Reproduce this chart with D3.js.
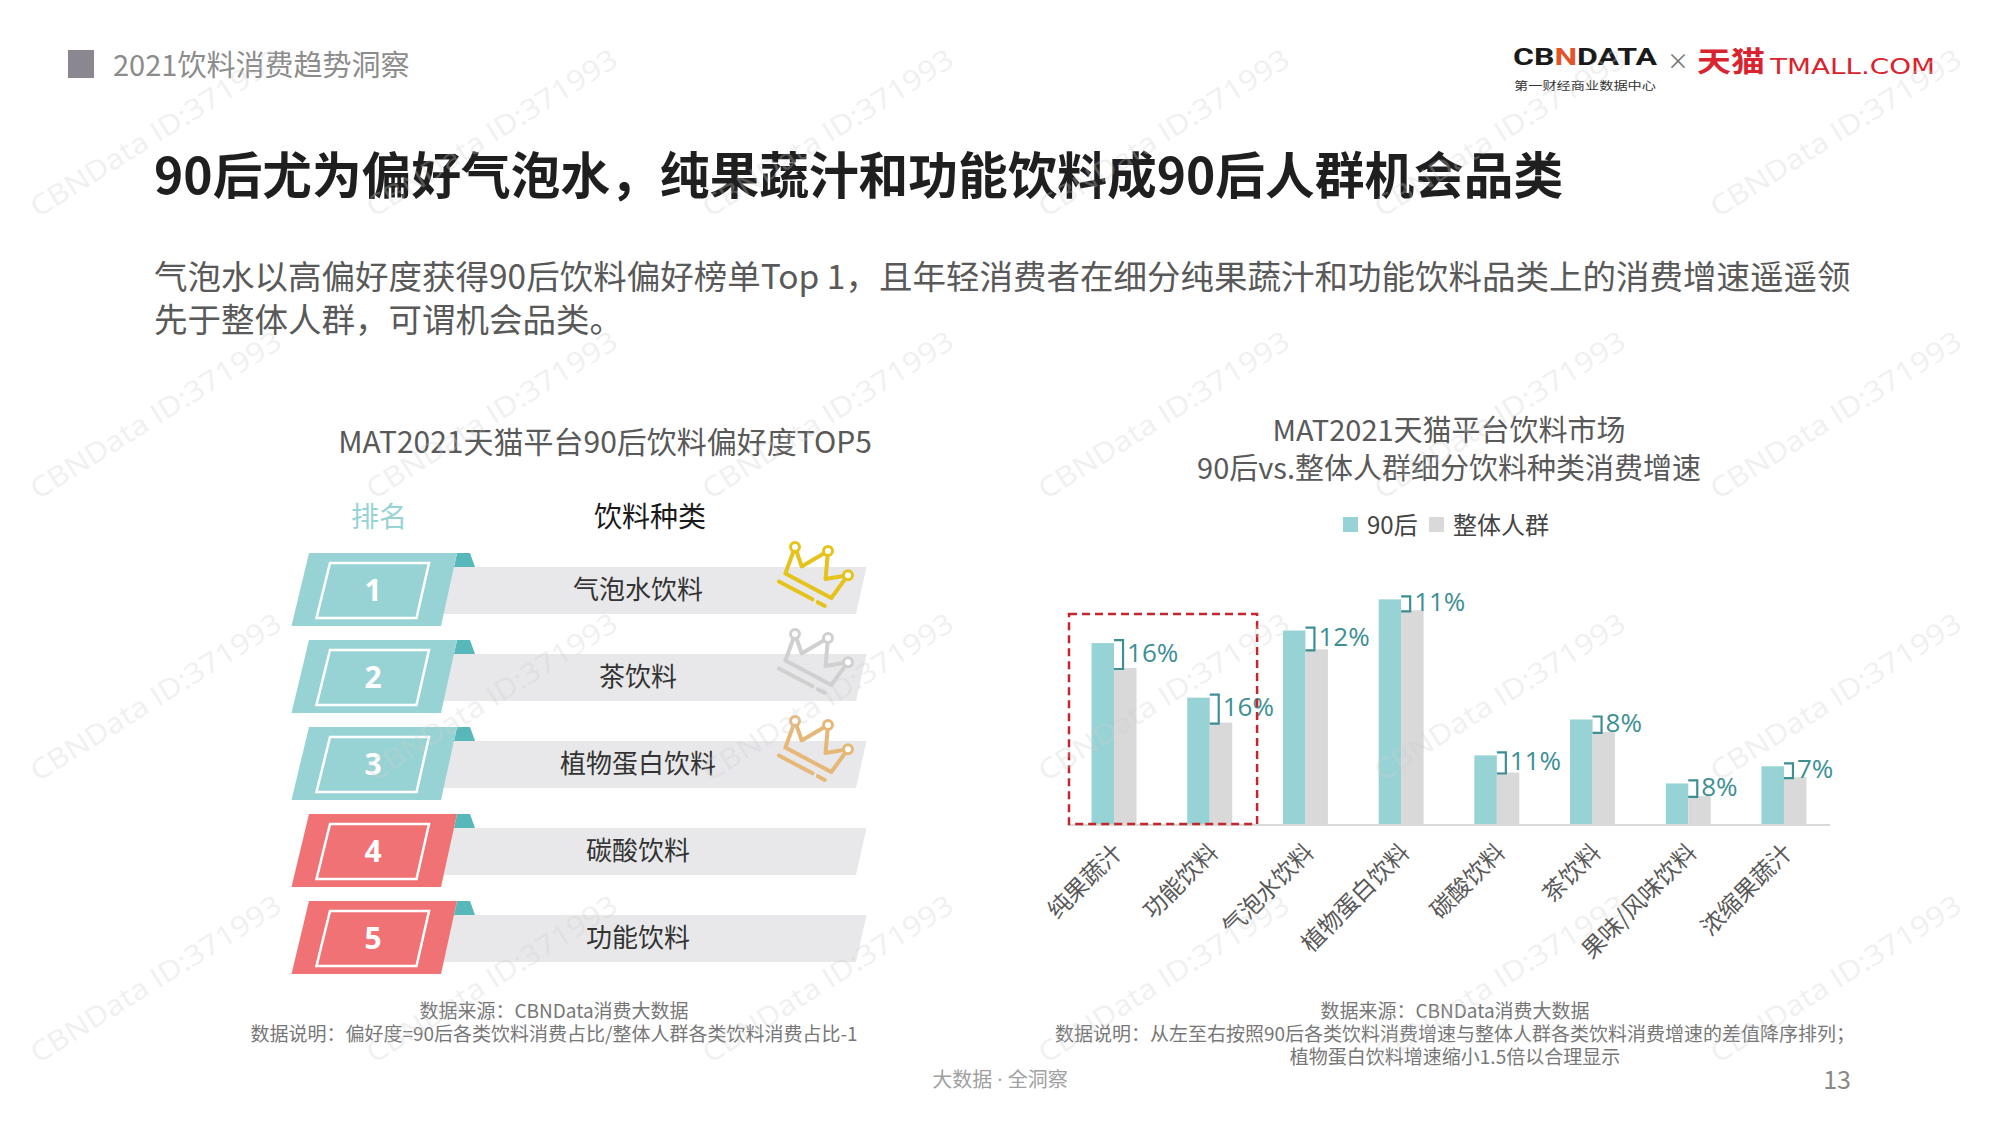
<!DOCTYPE html>
<html><head><meta charset="utf-8">
<script src="https://cdn.jsdelivr.net/npm/d3@7"></script>
<style>
html,body{margin:0;padding:0;background:#fff;}
svg{display:block;font-family:"Noto Sans CJK SC","Microsoft YaHei",sans-serif;}
</style></head>
<body><svg id="c" width="2000" height="1125"></svg>
<script>
// ---------- data ----------
const headerText = '2021饮料消费趋势洞察';
const titleText = '90后尤为偏好气泡水，纯果蔬汁和功能饮料成90后人群机会品类';
const subtitleLines = ['气泡水以高偏好度获得90后饮料偏好榜单Top 1，且年轻消费者在细分纯果蔬汁和功能饮料品类上的消费增速遥遥领','先于整体人群，可谓机会品类。'];

const leftTitle = 'MAT2021天猫平台90后饮料偏好度TOP5';
const rankHeaders = ['排名','饮料种类'];
const rankNumbers = ['1','2','3','4','5'];
const rankCategories = ['气泡水饮料','茶饮料','植物蛋白饮料','碳酸饮料','功能饮料'];
const crownColors = ['#e6c31c','#d0d0d0','#e6b878'];
const leftNotes = ['数据来源：CBNData消费大数据','数据说明：偏好度=90后各类饮料消费占比/整体人群各类饮料消费占比-1'];

const rightTitleLines = ['MAT2021天猫平台饮料市场','90后vs.整体人群细分饮料种类消费增速'];
const seriesNames = ['90后','整体人群'];
const growthCategories = ['纯果蔬汁','功能饮料','气泡水饮料','植物蛋白饮料','碳酸饮料','茶饮料','果味/风味饮料','浓缩果蔬汁'];
const growth90s = [116, 81, 124, 144, 44, 67, 26, 37];   // 植物蛋白 shown scaled down 1.5x
const growthAll = [100, 65, 112, 137, 33, 59, 18, 30];
const diffLabels = ['16%','16%','12%','11%','11%','8%','8%','7%'];
const highlighted = ['纯果蔬汁','功能饮料'];
const rightNotes = ['数据来源：CBNData消费大数据','数据说明：从左至右按照90后各类饮料消费增速与整体人群各类饮料消费增速的差值降序排列；','植物蛋白饮料增速缩小1.5倍以合理显示'];

const footerParts = ['大数据', ' · ', '全洞察'];
const pageNumber = '13';
const watermark = 'CBNData ID:371993';

// ---------- drawing ----------
const svg = d3.select('#c');
const C = {teal:'#97d3d4', tealDark:'#58b8b9', red:'#f07274', gray:'#d9d9d9', bar:'#e8e8ea', label:'#3d8f93'};

// header
svg.append('rect').attr('x',68).attr('y',50).attr('width',26).attr('height',28).attr('fill','#8b8791');
svg.append('text').attr('x',113).attr('y',76).attr('font-size',29).attr('fill','#8c8c8c').text(headerText);

// logos
const logo = svg.append('g');
const cbn = logo.append('text').attr('x',1513).attr('y',65).attr('font-size',24).attr('font-weight','bold')
  .attr('font-family','Roboto, "DejaVu Sans", sans-serif').attr('fill','#1a1a1a')
  .attr('textLength',144).attr('lengthAdjust','spacingAndGlyphs');
cbn.append('tspan').text('CB');
cbn.append('tspan').attr('fill','#e0562b').text('N');
cbn.append('tspan').text('DATA');
logo.append('text').attr('x',1514).attr('y',90).attr('font-size',11.5).attr('fill','#333')
  .attr('textLength',142).attr('lengthAdjust','spacingAndGlyphs').text('第一财经商业数据中心');
logo.append('text').attr('x',1678).attr('y',69).attr('text-anchor','middle').attr('font-size',22).attr('fill','#777').text('×');
logo.append('text').attr('x',1697).attr('y',72).attr('font-size',28).attr('font-weight','bold').attr('fill','#d9232e')
  .attr('textLength',68).attr('lengthAdjust','spacingAndGlyphs').text('天猫');
logo.append('text').attr('x',1770).attr('y',74).attr('font-size',20.5).attr('fill','#d9232e')
  .attr('font-family','"DejaVu Sans", sans-serif')
  .attr('textLength',165).attr('lengthAdjust','spacingAndGlyphs').text('TMALL.COM');

// title & subtitle
svg.append('text').attr('x',154).attr('y',194).attr('font-size',49.7).attr('font-weight','bold').attr('fill','#1f1f1f').text(titleText);
svg.selectAll('text.sub').data(subtitleLines).join('text').attr('class','sub')
  .attr('x',154).attr('y',(d,i)=>289+i*43).attr('font-size',33.5).attr('fill','#595959').text(d=>d);

// ---------- left panel ----------
svg.append('text').attr('x',605).attr('y',453).attr('text-anchor','middle').attr('font-size',30).attr('fill','#595959').text(leftTitle);
svg.append('text').attr('x',379).attr('y',527).attr('text-anchor','middle').attr('font-size',28).attr('fill',C.teal).text(rankHeaders[0]);
svg.append('text').attr('x',650).attr('y',527).attr('text-anchor','middle').attr('font-size',28).attr('fill','#1a1a1a').text(rankHeaders[1]);

const rowY = d3.scaleBand().domain(rankCategories).range([553, 553+87*rankCategories.length]);
const poly = pts => pts.map(p=>p.join(',')).join(' ');
const rows = svg.selectAll('g.row').data(rankCategories).join('g').attr('class','row')
  .attr('transform', d=>`translate(0,${rowY(d)})`);
rows.append('polygon').attr('points',poly([[440,14],[866.5,14],[856,61],[440,61]])).attr('fill',C.bar);
rows.append('polygon').attr('points',poly([[457,0],[470,0],[475,14],[454,14]])).attr('fill',C.tealDark);
rows.append('polygon').attr('points',poly([[309,0],[457,0],[441,73],[291.5,73]])).attr('fill',(d,i)=>i<3?C.teal:C.red);
rows.append('polygon').attr('points',poly([[330,10],[429,10],[416.5,65],[316.5,65]])).attr('fill','none').attr('stroke','#fff').attr('stroke-width',2.5);
rows.append('text').attr('x',373).attr('y',48).attr('text-anchor','middle').attr('font-size',30).attr('font-weight','bold')
  .attr('font-family','"Open Sans", "Noto Sans", sans-serif').attr('fill','#fff').text((d,i)=>rankNumbers[i]);
rows.append('text').attr('x',638).attr('y',46).attr('text-anchor','middle').attr('font-size',26).attr('fill','#333').text(d=>d);

// crowns
const rot = 28*Math.PI/180;
const R = ([x,y]) => [x*Math.cos(rot)-y*Math.sin(rot), x*Math.sin(rot)+y*Math.cos(rot)];
const crownPts = [[0,0],[15,14],[31,-12],[42,14],[60,0],[56,28],[4,28]].map(R);
const under1 = [[2,38],[40,38]].map(R), under2 = [[46,38],[54,38]].map(R);
const line = d3.line();
rows.filter((d,i)=>i<3).each(function(d,i){
  const g = d3.select(this).append('g').attr('transform','translate(795,-6)');
  const col = crownColors[i];
  g.append('path').attr('d', line(crownPts)+'Z').attr('fill','none').attr('stroke',col).attr('stroke-width',4).attr('stroke-linejoin','round');
  g.append('path').attr('d', line(under1)).attr('stroke',col).attr('stroke-width',4).attr('stroke-linecap','round');
  g.append('path').attr('d', line(under2)).attr('stroke',col).attr('stroke-width',4).attr('stroke-linecap','round');
  [0,2,4].forEach(k=>g.append('circle').attr('cx',crownPts[k][0]).attr('cy',crownPts[k][1]).attr('r',4.5)
    .attr('fill','#fff').attr('stroke',col).attr('stroke-width',3));
});

svg.selectAll('text.lnote').data(leftNotes).join('text').attr('class','lnote')
  .attr('x',554).attr('y',(d,i)=>1018+i*23).attr('text-anchor','middle').attr('font-size',19).attr('fill','#777').text(d=>d);

// ---------- right panel ----------
svg.selectAll('text.rtitle').data(rightTitleLines).join('text').attr('class','rtitle')
  .attr('x',1449).attr('y',(d,i)=>441+i*38).attr('text-anchor','middle').attr('font-size',29).attr('fill','#595959').text(d=>d);

const legend = svg.append('g');
[[1343,1367],[1429,1453]].forEach(([sx,tx],i)=>{
  legend.append('rect').attr('x',sx).attr('y',517).attr('width',15).attr('height',15).attr('fill',i===0?C.teal:C.gray);
  legend.append('text').attr('x',tx).attr('y',534).attr('font-size',24).attr('fill','#444').text(seriesNames[i]);
});

const x = d3.scaleBand().domain(growthCategories).range([1068,1830]).paddingInner(0.53).paddingOuter(0.246);
const y = d3.scaleLinear().domain([0,150]).range([824, 824-234]);
const bw = x.bandwidth()/2;
const cg = svg.append('g');
cg.selectAll('rect.t').data(growthCategories).join('rect').attr('class','t')
  .attr('x',d=>x(d)).attr('width',bw).attr('y',(d,i)=>y(growth90s[i])).attr('height',(d,i)=>y(0)-y(growth90s[i])).attr('fill',C.teal);
cg.selectAll('rect.g').data(growthCategories).join('rect').attr('class','g')
  .attr('x',d=>x(d)+bw).attr('width',bw).attr('y',(d,i)=>y(growthAll[i])).attr('height',(d,i)=>y(0)-y(growthAll[i])).attr('fill',C.gray);
cg.append('line').attr('x1',x.range()[0]).attr('x2',x.range()[1]).attr('y1',y(0)+1).attr('y2',y(0)+1).attr('stroke','#d9d9d9').attr('stroke-width',2);

// brackets + labels
cg.selectAll('path.br').data(growthCategories).join('path').attr('class','br')
  .attr('d',(d,i)=>{const x0=x(d)+bw, x1=x0+9, t=y(growth90s[i])-3, b=y(growthAll[i])+1;
    return `M${x0},${t}L${x1},${t}L${x1},${b}L${x0},${b}`;})
  .attr('fill','none').attr('stroke',C.label).attr('stroke-width',2.2);
cg.selectAll('text.dl').data(growthCategories).join('text').attr('class','dl')
  .attr('x',d=>x(d)+bw+13).attr('y',(d,i)=>(y(growth90s[i])+y(growthAll[i]))/2 - 3).attr('dy','0.36em')
  .attr('font-size',26).attr('fill',C.label).attr('font-family','"Open Sans","Noto Sans",sans-serif').text((d,i)=>diffLabels[i]);

// category labels
cg.selectAll('text.cat').data(growthCategories).join('text').attr('class','cat')
  .attr('transform',d=>`translate(${x(d)+bw+4},${y(0)+24}) rotate(-45)`)
  .attr('text-anchor','end').attr('dy','0.35em').attr('font-size',23.5).attr('fill','#595959').text(d=>d);

// highlight box
const hx1 = x(highlighted[1]) + x.bandwidth() + (x.step()*x.paddingInner())/2 - 0.5;
cg.append('rect').attr('x',1069).attr('y',614).attr('width',hx1-1069).attr('height',y(0)-614)
  .attr('fill','none').attr('stroke','#c3262c').attr('stroke-width',2.5).attr('stroke-dasharray','8,5');

svg.selectAll('text.rnote').data(rightNotes).join('text').attr('class','rnote')
  .attr('x',1455).attr('y',(d,i)=>1018+i*23).attr('text-anchor','middle').attr('font-size',19).attr('fill','#777').text(d=>d);

// footer
const ft = svg.append('text').attr('x',1000).attr('y',1087).attr('text-anchor','middle').attr('font-size',20).attr('fill','#a0a0a0');
ft.append('tspan').text(footerParts[0]);
ft.append('tspan').attr('font-family','"Open Sans","Noto Sans",sans-serif').text(footerParts[1]);
ft.append('tspan').text(footerParts[2]);
svg.append('text').attr('x',1851).attr('y',1089).attr('text-anchor','end').attr('font-size',25).attr('fill','#888').text(pageNumber);

// watermarks
const wmCols = d3.range(6), wmRows = d3.range(4);
const wm = svg.append('g').attr('pointer-events','none');
wmRows.forEach(j=>wmCols.forEach(k=>{
  wm.append('text').attr('transform',`translate(${38+336*k},${218+282*j}) rotate(-32)`)
    .attr('font-size',28).attr('fill','#cfcfcf').attr('opacity',0.3)
    .attr('font-family','"Open Sans","Noto Sans",sans-serif')
    .attr('textLength',290).attr('lengthAdjust','spacingAndGlyphs').text(watermark);
}));
</script></body></html>
